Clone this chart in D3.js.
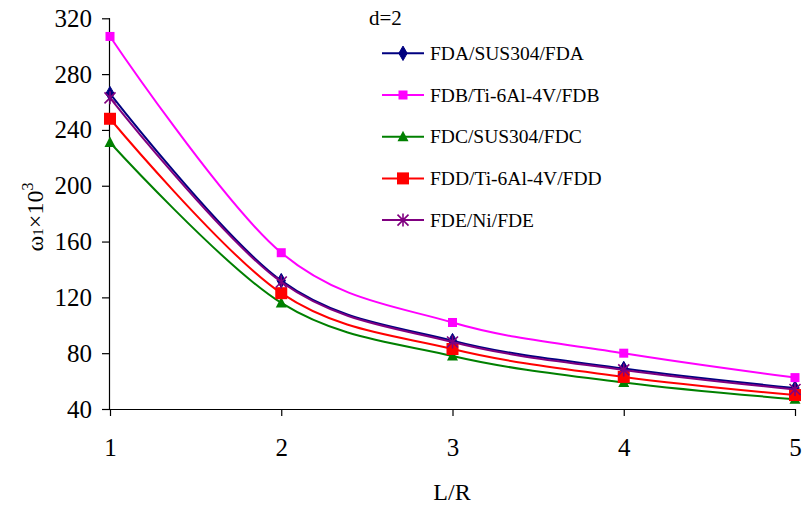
<!DOCTYPE html>
<html>
<head>
<meta charset="utf-8">
<script src="https://cdn.jsdelivr.net/npm/d3@7"></script>
<style>
  html, body { margin: 0; padding: 0; background: #fff; }
  svg text { font-family: "Liberation Serif", "Times New Roman", serif; fill: #000; }
</style>
</head>
<body>
<svg id="chart" width="804" height="508"></svg>
<script>
// ---- data ----
const xValues = [1, 2, 3, 4, 5];
const seriesNames = ["FDA/SUS304/FDA", "FDB/Ti-6Al-4V/FDB", "FDC/SUS304/FDC", "FDD/Ti-6Al-4V/FDD", "FDE/Ni/FDE"];
const fdaValues = [266, 132, 89, 69, 55];
const fdbValues = [307, 152, 102, 80, 62.5];
const fdcValues = [231, 116, 78, 59, 47];
const fddValues = [248, 123, 83, 63, 50];
const fdeValues = [263, 131, 88, 68, 54];
const yTicks = [40, 80, 120, 160, 200, 240, 280, 320];
const xTicks = [1, 2, 3, 4, 5];
const colors = ["#000080", "#FF00FF", "#008000", "#FF0000", "#800080"];
const markers = ["diamond", "square", "triangle", "bigsquare", "asterisk"];
const allValues = [fdaValues, fdbValues, fdcValues, fddValues, fdeValues];

const svg = d3.select("#chart");
const plotLeft = 110, plotRight = 795, plotTop = 18.3, plotBottom = 409;
const x = d3.scaleLinear().domain([1, 5]).range([plotLeft, plotRight]);
const y = d3.scaleLinear().domain([40, 320]).range([plotBottom, plotTop]);

// axes
const yAxis = d3.axisLeft(y).tickValues(yTicks).tickFormat(d3.format("d")).tickSize(8).tickPadding(10);
const gy = svg.append("g").attr("transform", `translate(${plotLeft},0)`).call(yAxis);
const xAxis = d3.axisBottom(x).tickValues(xTicks).tickFormat(d3.format("d")).tickSize(7).tickPadding(22);
const gx = svg.append("g").attr("transform", `translate(0,${plotBottom})`).call(xAxis);
[gx, gy].forEach(g => {
  g.select(".domain").attr("stroke", "#000").attr("stroke-width", 1.2);
  g.selectAll(".tick line").attr("stroke", "#000").attr("stroke-width", 1.2);
  g.selectAll(".tick text").style("font-family", "'Liberation Serif', serif").style("font-size", "25px").attr("fill", "#000");
});
gx.select(".domain").attr("d", `M${plotLeft},0.5H${plotRight}`);
gy.select(".domain").attr("d", `M-0.5,${plotTop}V${plotBottom}`);

// axis titles
svg.append("text").attr("x", 452).attr("y", 500).attr("text-anchor", "middle")
  .style("font-size", "24px").text("L/R");
const yt = svg.append("text").attr("transform", "translate(43,217) rotate(-90)")
  .attr("text-anchor", "middle").style("font-size", "24px");
yt.append("tspan").text("ω");
yt.append("tspan").style("font-size", "15px").text("1");
yt.append("tspan").text("×10");
yt.append("tspan").attr("dy", -10).style("font-size", "16px").text("3");

// marker drawing
function drawMarker(g, type, color, cx, cy) {
  if (type === "diamond") {
    g.append("path").attr("d", d3.symbol(d3.symbolDiamond, 60)()).attr("transform", `translate(${cx},${cy})`)
      .attr("fill", color).attr("stroke", color);
  } else if (type === "square") {
    g.append("rect").attr("x", cx - 4.5).attr("y", cy - 4.5).attr("width", 9).attr("height", 9).attr("fill", color);
  } else if (type === "bigsquare") {
    g.append("rect").attr("x", cx - 6).attr("y", cy - 6).attr("width", 12).attr("height", 12).attr("fill", color);
  } else if (type === "triangle") {
    g.append("path").attr("d", `M${cx},${cy - 6}L${cx + 5.5},${cy + 4.5}L${cx - 5.5},${cy + 4.5}Z`).attr("fill", color);
  } else if (type === "asterisk") {
    const r = 5.5;
    g.append("path").attr("d", `M${cx - r},${cy - r}L${cx + r},${cy + r}M${cx - r},${cy + r}L${cx + r},${cy - r}M${cx},${cy - r - 1}L${cx},${cy + r + 1}`)
      .attr("stroke", color).attr("stroke-width", 1.6).attr("fill", "none");
  }
}

// series
const line = d3.line().x(d => x(d[0])).y(d => y(d[1])).curve(d3.curveCardinal.tension(0));
allValues.forEach((vals, i) => {
  const g = svg.append("g");
  const pts = xValues.map((xv, j) => [xv, vals[j]]);
  g.append("path").datum(pts).attr("d", line).attr("fill", "none").attr("stroke", colors[i]).attr("stroke-width", 2);
  pts.forEach(p => drawMarker(g, markers[i], colors[i], x(p[0]), y(p[1])));
});

// legend
svg.append("text").attr("x", 369).attr("y", 25).style("font-size", "21px").text("d=2");
const legY0 = 53.3, legDy = 41.7;
seriesNames.forEach((name, i) => {
  const ly = legY0 + i * legDy;
  const g = svg.append("g");
  g.append("line").attr("x1", 382).attr("x2", 424).attr("y1", ly).attr("y2", ly).attr("stroke", colors[i]).attr("stroke-width", 2);
  drawMarker(g, markers[i], colors[i], 403, ly);
  g.append("text").attr("x", 430).attr("y", ly + 6.5).style("font-size", "19.5px").text(name);
});
</script>
</body>
</html>
